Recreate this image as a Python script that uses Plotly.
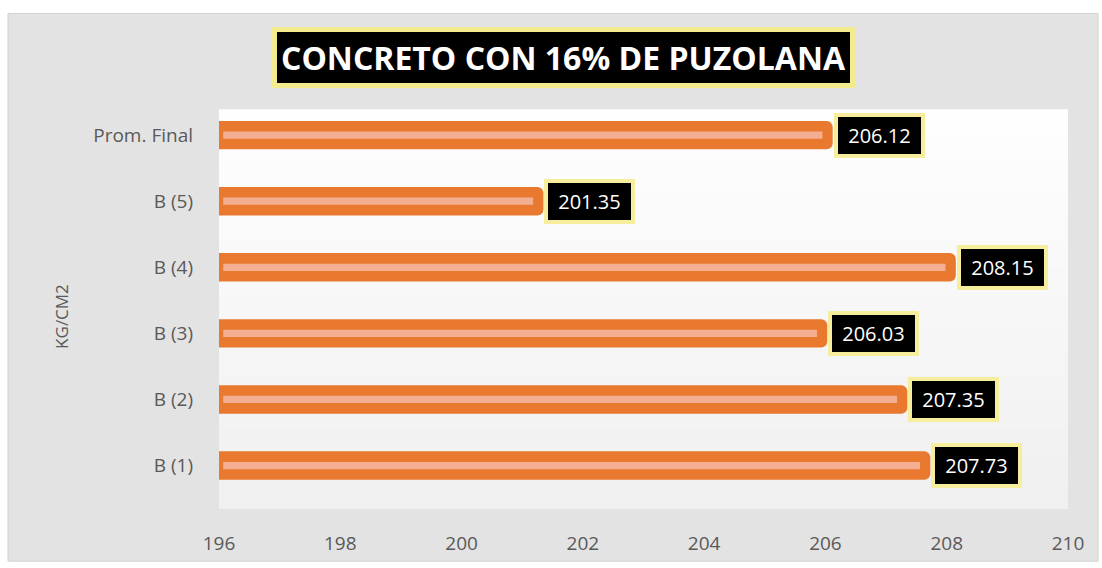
import plotly.graph_objects as go

categories = ["B (1)", "B (2)", "B (3)", "B (4)", "B (5)", "Prom. Final"]
values = [207.73, 207.35, 206.03, 208.15, 201.35, 206.12]
x_ticks = [196, 198, 200, 202, 204, 206, 208, 210]
title_text = "CONCRETO CON 16% DE PUZOLANA"
y_title = "KG/CM2"

AXIS_MIN = 196
ORANGE = "#E8792F"
STRIPE = "#F4AF93"
GREY = "#595959"

W, H = 1102, 568
L, R, T, B = 219, 34, 110, 53
PW, PH = W - L - R, H - T - B


def px(xp):
    return (xp - L) / PW


def py(yp):
    return (H - B - yp) / PH


fig = go.Figure()
fig.add_trace(go.Bar(
    y=categories, x=values, orientation="h",
    marker=dict(color=ORANGE, cornerradius=6, line=dict(width=0)),
    width=0.43, hoverinfo="skip",
))
stripe_start = AXIS_MIN + 0.07
fig.add_trace(go.Bar(
    y=categories, x=[v - stripe_start - 0.17 for v in values],
    base=[stripe_start] * len(values), orientation="h",
    marker=dict(color=STRIPE, line=dict(width=0)),
    width=0.11, hoverinfo="skip",
))

# label boxes
for c, v in zip(categories, values):
    fig.add_annotation(
        x=v, y=c, xref="x", yref="y", xanchor="left", yanchor="middle",
        text=f"&nbsp;{v:.2f}&nbsp;", showarrow=False, xshift=1,
        font=dict(family="Open Sans", size=20, color="white"),
        bgcolor="black", bordercolor="#F6EE9C", borderwidth=4, borderpad=5,
    )

# title
fig.add_annotation(
    x=px(563), y=py(57), xref="paper", yref="paper",
    xanchor="center", yanchor="middle", showarrow=False,
    text=f"<b>{title_text}</b>",
    font=dict(family="Open Sans", size=32, color="white"),
    bgcolor="black", bordercolor="#F3EB8E", borderwidth=5, borderpad=4,
)
# y title
fig.add_annotation(
    x=px(62), y=py(320), xref="paper", yref="paper",
    xanchor="center", yanchor="middle", showarrow=False, textangle=-90,
    text=y_title, font=dict(family="Open Sans", size=17, color=GREY),
)

shapes = [dict(type="rect", xref="paper", yref="paper",
               x0=px(8), x1=px(1098), y0=py(568), y1=py(12),
               fillcolor="#E3E3E3", line=dict(color="#D2D2D2", width=1),
               layer="below")]
# plot-area vertical gradient (white -> light grey)
n = 30
for i in range(n):
    g = int(255 - (255 - 240) * (i + 0.5) / n)
    shapes.append(dict(type="rect", xref="x domain", yref="y domain",
                       x0=0, x1=1, y0=1 - (i + 1) / n, y1=1 - i / n + 0.002,
                       fillcolor=f"rgb({g},{g},{g})", line=dict(width=0),
                       layer="below"))

fig.update_layout(
    width=W, height=H,
    margin=dict(l=L, r=R, t=T, b=B, pad=0),
    paper_bgcolor="white", plot_bgcolor="rgba(0,0,0,0)",
    barmode="overlay", showlegend=False,
    shapes=shapes,
    xaxis=dict(range=[196, 210], tickvals=x_ticks, showgrid=False,
               zeroline=False, showline=False, ticks="",
               tickfont=dict(family="Open Sans", size=19, color=GREY),
               ticklabelstandoff=21),
    yaxis=dict(range=[-0.657, 5.38], showgrid=False, zeroline=False,
               showline=False, ticks="", categoryorder="array",
               categoryarray=categories,
               tickfont=dict(family="Open Sans", size=19, color=GREY),
               ticklabelstandoff=25),
)

fig.write_html("out.html",
               config={"displayModeBar": False},
               post_script="document.body.style.margin='0';"
                           "document.body.style.overflow='hidden';")
